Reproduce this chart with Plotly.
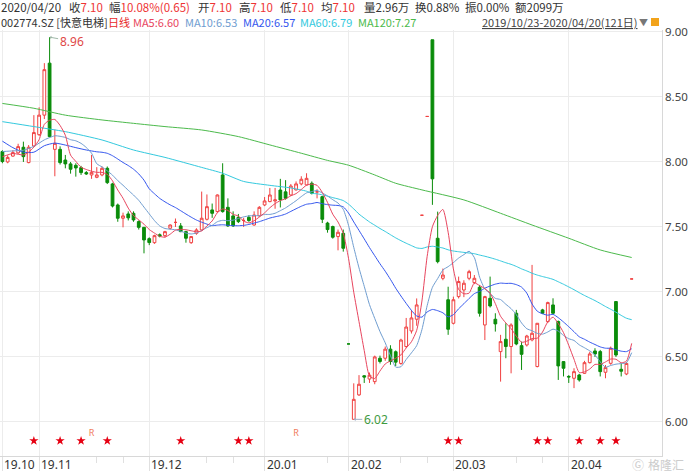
import plotly.graph_objects as go
import pandas as pd

# ---------------- data ----------------
opens = [8.08, 8.00, 8.045, 8.07, 8.113, 7.995, 8.123, 8.21, 8.36, 8.76,
         8.097, 8.097, 8.015, 7.985, 7.974, 7.956, 7.918, 7.90, 7.882, 7.90,
         7.951, 7.831, 7.669, 7.567, 7.60, 7.605, 7.541, 7.497, 7.41, 7.379,
         7.44, 7.433, 7.49, 7.535, 7.508, 7.464, 7.379, 7.451, 7.477, 7.559,
         7.631, 7.618, 7.90, 7.651, 7.585, 7.574, 7.55, 7.574, 7.515, 7.585,
         7.669, 7.695, 7.70, 7.784, 7.77, 7.746, 7.785, 7.831, 7.823, 7.836,
         7.77, 7.733, 7.53, 7.503, 7.426, 7.451, 6.60, 6.02, 6.208, 6.355,
         6.33, 6.31, 6.49, 6.49, 6.56, 6.54, 6.45, 6.58, 6.70, 6.79,
         7.59, 8.35, 8.94, 7.413, 7.105, 6.94, 6.759, 6.964, 7.015, 7.105,
         7.072, 7.036, 6.746, 6.951, 6.79, 6.541, 6.636, 6.58, 6.836, 6.587,
         6.592, 6.631, 6.426, 6.862, 6.772, 6.90, 6.772, 6.464, 6.35, 6.336,
         6.361, 6.374, 6.456, 6.546, 6.541, 6.382, 6.451, 6.926, 6.405, 6.369,
         7.10]
highs = [8.09, 8.05, 8.09, 8.14, 8.156, 8.13, 8.36, 8.42, 8.76, 8.96,
         8.25, 8.12, 8.054, 8.00, 7.99, 7.97, 7.93, 8.054, 7.96, 7.965,
         7.965, 7.84, 7.68, 7.61, 7.62, 7.62, 7.55, 7.50, 7.42, 7.44,
         7.45, 7.47, 7.52, 7.565, 7.53, 7.47, 7.43, 7.49, 7.772, 7.75,
         7.68, 7.75, 7.99, 7.72, 7.62, 7.60, 7.57, 7.59, 7.62, 7.66,
         7.73, 7.80, 7.80, 7.87, 7.86, 7.83, 7.85, 7.89, 7.913, 7.85,
         7.79, 7.74, 7.54, 7.51, 7.48, 7.48, 6.60, 6.297, 6.36, 6.36,
         6.38, 6.51, 6.51, 6.58, 6.59, 6.55, 6.64, 6.80, 6.86, 6.95,
         7.59, 8.35, 8.94, 7.618, 7.18, 7.04, 6.964, 7.118, 7.09, 7.17,
         7.13, 7.054, 6.97, 7.118, 6.836, 6.67, 6.759, 6.759, 6.862, 6.618,
         6.67, 7.208, 6.76, 6.87, 6.925, 6.951, 6.78, 6.465, 6.36, 6.413,
         6.37, 6.47, 6.54, 6.567, 6.554, 6.438, 6.58, 6.93, 6.45, 6.46,
         7.10]
lows = [7.99, 7.99, 8.04, 8.06, 8.00, 7.99, 8.12, 8.20, 8.33, 8.19,
        7.89, 7.98, 7.951, 7.91, 7.887, 7.90, 7.90, 7.87, 7.875, 7.89,
        7.83, 7.65, 7.54, 7.497, 7.55, 7.54, 7.48, 7.297, 7.36, 7.37,
        7.42, 7.42, 7.48, 7.50, 7.46, 7.379, 7.37, 7.44, 7.47, 7.55,
        7.57, 7.61, 7.61, 7.50, 7.50, 7.53, 7.50, 7.54, 7.51, 7.58,
        7.66, 7.69, 7.64, 7.65, 7.71, 7.74, 7.78, 7.82, 7.82, 7.75,
        7.72, 7.53, 7.456, 7.41, 7.32, 7.31, 6.60, 6.02, 6.20, 6.30,
        6.30, 6.29, 6.45, 6.47, 6.44, 6.43, 6.44, 6.57, 6.68, 6.74,
        7.59, 8.35, 7.67, 7.22, 7.09, 6.67, 6.75, 6.95, 6.96, 7.09,
        7.06, 6.81, 6.63, 6.88, 6.695, 6.31, 6.49, 6.374, 6.59, 6.40,
        6.58, 6.62, 6.42, 6.83, 6.76, 6.83, 6.323, 6.35, 6.30, 6.26,
        6.31, 6.37, 6.45, 6.50, 6.35, 6.336, 6.44, 6.50, 6.35, 6.36,
        7.10]
closes = [8.003, 8.035, 8.072, 8.118, 8.041, 8.113, 8.226, 8.36, 8.71, 8.195,
          8.143, 7.995, 7.985, 7.944, 7.954, 7.918, 7.908, 7.92, 7.90, 7.951,
          7.841, 7.661, 7.567, 7.585, 7.57, 7.554, 7.497, 7.40, 7.38, 7.433,
          7.43, 7.464, 7.515, 7.535, 7.464, 7.413, 7.426, 7.477, 7.567, 7.656,
          7.605, 7.746, 7.618, 7.508, 7.508, 7.541, 7.55, 7.549, 7.592, 7.651,
          7.70, 7.746, 7.708, 7.708, 7.72, 7.815, 7.831, 7.867, 7.874, 7.759,
          7.77, 7.559, 7.48, 7.421, 7.459, 7.336, 6.60, 6.174, 6.29, 6.345,
          6.36, 6.50, 6.465, 6.56, 6.465, 6.46, 6.63, 6.73, 6.80, 6.90,
          7.59, 8.35, 7.87, 7.233, 7.13, 6.713, 6.94, 7.08, 7.067, 7.156,
          7.105, 6.836, 6.964, 6.892, 6.754, 6.618, 6.58, 6.746, 6.60, 6.52,
          6.661, 6.682, 6.759, 6.836, 6.918, 6.836, 6.431, 6.413, 6.346, 6.387,
          6.323, 6.456, 6.523, 6.523, 6.387, 6.418, 6.567, 6.515, 6.39, 6.45,
          7.10]

month_labels = ["19.10", "19.11", "19.12", "20.01", "20.02", "20.03", "20.04"]
month_start_idx = [0, 7, 28, 50, 66, 86, 108]
minor_tick_idx = [18, 23, 39, 44, 62, 76, 81, 98, 103]

# moving-average values read off the picture where history is not visible
ma5_head_idx = [0, 2]
ma5_head = [8.04, 8.065]
ma10_head_idx = [0, 2, 4, 6, 8]
ma10_head = [8.08, 8.085, 8.09, 8.12, 8.17]
ma20_head_idx = [0, 2, 4, 6, 8, 10, 12, 14, 16, 18]
ma20_head = [8.16, 8.11, 8.075, 8.075, 8.125, 8.145, 8.13, 8.11, 8.092, 8.078]
ma60_head_idx = [0, 6, 12, 19, 25, 31, 38, 42, 46, 51, 55, 58]
ma60_head = [8.31, 8.272, 8.233, 8.169, 8.092, 8.035, 7.958, 7.913, 7.85, 7.82, 7.80, 7.775]
ma120_idx = [0, 6, 12, 19, 25, 31, 38, 45, 51, 57, 62, 66, 71, 75, 80, 88, 95, 101, 108, 114, 120]
ma120_vals = [8.45, 8.413, 8.36, 8.323, 8.297, 8.272, 8.246, 8.195, 8.131, 8.067, 8.012,
              7.975, 7.9, 7.836, 7.785, 7.708, 7.605, 7.515, 7.413, 7.323, 7.265]

star_idx = [6, 11, 15, 20, 34, 45, 47, 85, 87, 102, 104, 110, 114, 117]
r_idx = [17, 56]
y_ticks = [6.0, 6.5, 7.0, 7.5, 8.0, 8.5, 9.0]

# ---------------- figure ----------------
W, H = 692, 473
ML, MR, MT, MB = 0, 30, 30, 17
PW, PH = W - ML - MR, H - MT - MB

idx = list(range(len(closes)))
s = pd.Series(closes)


def ma_series(n, head_idx, head_vals):
    roll = s.rolling(n).mean()
    xs = list(head_idx) + list(range(n - 1, len(closes)))
    ys = list(head_vals) + [float(v) for v in roll.iloc[n - 1:]]
    return xs, ys


C_MA5, C_MA10, C_MA20, C_MA60, C_MA120 = '#e8455e', '#6f9dd0', '#3456ee', '#33c9de', '#4cba4c'
RED, GREEN, DARK = '#ee3434', '#0a8c0a', '#333333'

fig = go.Figure()

fig.add_trace(go.Candlestick(
    x=idx, open=opens, high=highs, low=lows, close=closes,
    increasing=dict(line=dict(color='#f04040', width=1), fillcolor='#ffffff'),
    decreasing=dict(line=dict(color=GREEN, width=1), fillcolor=GREEN),
    whiskerwidth=0, showlegend=False, hoverinfo='skip'))

for (xs, ys), col in [
    ((ma120_idx, ma120_vals), C_MA120),
    (ma_series(60, ma60_head_idx, ma60_head), C_MA60),
    (ma_series(20, ma20_head_idx, ma20_head), C_MA20),
    (ma_series(10, ma10_head_idx, ma10_head), C_MA10),
    (ma_series(5, ma5_head_idx, ma5_head), C_MA5),
]:
    fig.add_trace(go.Scatter(x=xs, y=ys, mode='lines',
                             line=dict(color=col, width=1, shape='spline', smoothing=0.6),
                             showlegend=False, hoverinfo='skip'))

STAR_Y, R_Y = 5.855, 5.91
fig.add_trace(go.Scatter(x=star_idx, y=[STAR_Y] * len(star_idx), mode='markers',
                         marker=dict(symbol='star', size=7, color='#e60012', line=dict(width=0)),
                         showlegend=False, hoverinfo='skip'))
fig.add_trace(go.Scatter(x=r_idx, y=[R_Y] * len(r_idx), mode='text', text=['R'] * len(r_idx),
                         textfont=dict(color='#f07a5a', size=9, family='Noto Sans'),
                         showlegend=False, hoverinfo='skip'))

# max / min labels
i_max = max(idx, key=lambda i: highs[i])
i_min = min(idx, key=lambda i: lows[i])
fig.add_annotation(x=i_max, y=highs[i_max], text=f"{highs[i_max]:.2f}", showarrow=True,
                   ax=22, ay=4, arrowhead=1, arrowsize=0.6, arrowwidth=1, arrowcolor='#9fb8a8',
                   font=dict(color='#e04848', size=12, family='Noto Sans'))
fig.add_annotation(x=i_min, y=lows[i_min], text=f"{lows[i_min]:.2f}", showarrow=True,
                   ax=22, ay=0, arrowhead=1, arrowsize=0.6, arrowwidth=1, arrowcolor='#9fb0c8',
                   font=dict(color='#3f9a3f', size=12, family='Noto Sans'))


def px_x(px):
    return (px - ML) / PW


def px_y(py):
    return (H - MB - py) / PH


FONT = 'Noto Sans CJK SC, Noto Sans, sans-serif'


def txt(px, py, text, color=DARK, size=12, anchor='left'):
    fig.add_annotation(xref='paper', yref='paper', x=px_x(px), y=px_y(py), text=text,
                       showarrow=False, xanchor=anchor, yanchor='middle', borderpad=0,
                       font=dict(color=color, size=size, family=FONT))


def kv(px, py, k, v, vcol=RED, size=11.5):
    txt(px, py, f"{k}<span style='color:{vcol}'>{v}</span>", size=size)


# header row 1
R1 = 7.5
txt(0, R1, "2020/04/20", size=11.5)
kv(68, R1, "收", "7.10")
kv(108, R1, "幅", "10.08%(0.65)")
kv(197, R1, "开", "7.10")
kv(238, R1, "高", "7.10")
kv(279, R1, "低", "7.10")
kv(320, R1, "均", "7.10")
kv(363, R1, "量", "2.96万", DARK)
kv(414, R1, "换", "0.88%", DARK)
kv(464, R1, "振", "0.00%", DARK)
kv(514, R1, "额", "2099万", DARK)

# header row 2
R2 = 22.5
txt(0, R2, "002774.SZ [快意电梯]", size=11)
txt(107, R2, "日线", '#e82828', 11)
txt(132, R2, "MA5:6.60", C_MA5, 11)
txt(184, R2, "MA10:6.53", C_MA10, 11)
txt(242, R2, "MA20:6.57", C_MA20, 11)
txt(299, R2, "MA60:6.79", C_MA60, 11)
txt(357, R2, "MA120:7.27", C_MA120, 11)
txt(481, R2, "<u>2019/10/23-2020/04/20(121日)</u>", '#444444', 11)
txt(638, R2, "▼", '#777777', 9)
fig.add_shape(type='rect', xref='paper', yref='paper', x0=px_x(651), x1=px_x(659),
              y0=px_y(26), y1=px_y(18), fillcolor='#f2a31b', line=dict(width=0))

# y tick labels (right side)
for v in y_ticks:
    fig.add_annotation(xref='paper', x=px_x(664), y=v, text=f"{v:.2f}", showarrow=False,
                       xanchor='left', yanchor='middle', borderpad=0,
                       font=dict(color='#444444', size=11.5, family='Noto Sans'))

# month labels
for i, lab in zip(month_start_idx, month_labels):
    fig.add_annotation(x=i, y=px_y(464), yref='paper', text=lab, showarrow=False,
                       xanchor='left', yanchor='middle', xshift=1, borderpad=0,
                       font=dict(color=DARK, size=12, family='Noto Sans'))

# watermark
txt(631, 464, "Ⓖ", '#cccccc', 12)
txt(647, 464, "格隆汇", '#cccccc', 12)

fig.update_layout(
    width=W, height=H, margin=dict(l=ML, r=MR, t=MT, b=MB),
    paper_bgcolor='white', plot_bgcolor='white', showlegend=False,
    boxgap=0.25,
    xaxis=dict(range=[-0.458, 125.78], rangeslider=dict(visible=False),
               tickvals=month_start_idx, showticklabels=False,
               ticks='outside', ticklen=14, tickcolor='#e0e0e0',
               minor=dict(tickvals=minor_tick_idx, ticks='outside', ticklen=6,
                          tickcolor='#e0e0e0', showgrid=False),
               showgrid=True, gridcolor='#ececec', gridwidth=1,
               showline=True, linecolor='#d8d8d8', zeroline=False, fixedrange=True),
    yaxis=dict(range=[5.738, 9.015], side='right', tickvals=y_ticks, showticklabels=False,
               showgrid=True, gridcolor='#ececec', gridwidth=1, zeroline=False,
               showline=True, linecolor='#d8d8d8', ticks='', fixedrange=True),
)

fig.write_html("out.html", config={'displayModeBar': False},
               post_script="document.body.style.margin='0';document.body.style.overflow='hidden';")
